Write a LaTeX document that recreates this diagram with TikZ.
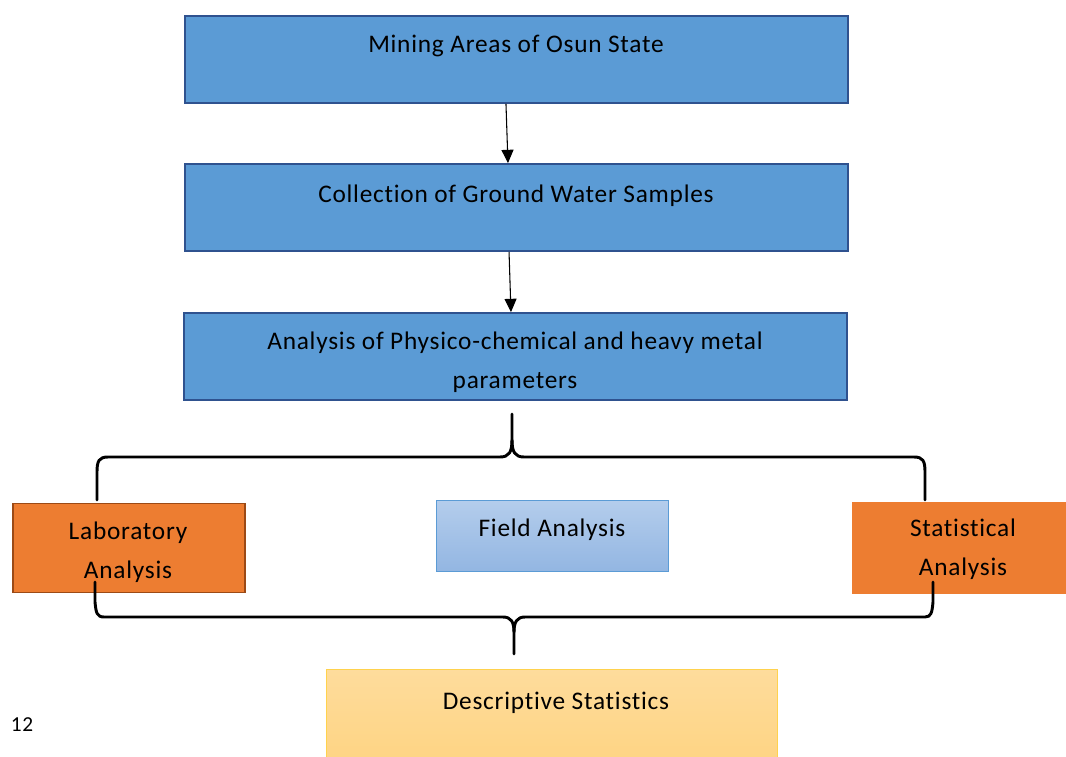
\documentclass[tikz,border=0pt]{standalone}
\usepackage{fontspec}
\setmainfont{Carlito}[Ligatures=NoCommon,LetterSpace=3]
\usetikzlibrary{arrows.meta}
\definecolor{boxblue}{HTML}{5B9BD5}
\definecolor{boxedge}{HTML}{2F528F}
\definecolor{boxorange}{HTML}{ED7D31}
\definecolor{labedge}{HTML}{9C4A16}
\definecolor{fieldtop}{HTML}{B4CDEC}
\definecolor{fieldbot}{HTML}{93B6E2}
\definecolor{desctop}{HTML}{FEDC9C}
\definecolor{descbot}{HTML}{FED483}
\definecolor{descedge}{HTML}{FFD24D}
\begin{document}
\begin{tikzpicture}[x=0.75pt,y=-0.75pt,
  stagebox/.style={draw=boxedge,line width=1.5pt,fill=boxblue,minimum width=497pt,minimum height=65pt},
  txt/.style={font=\fontsize{19}{29}\selectfont,align=center},
  flow/.style={-{Triangle[length=10pt,width=9pt]},line width=0.8pt},
  brace/.style={line width=2.2pt,line cap=round}]
\useasboundingbox (0,0) rectangle (1066,756);
\node[stagebox] (mining) at (516.5,59.5) {};
\node[stagebox] (collection) at (516.5,207.5) {};
\node[stagebox] (physchem) at (515.5,356.5) {};
\node[txt] (miningtxt) at (516,46) {Mining Areas of Osun State};
\node[txt] (collectiontxt) at (516,196) {Collection of Ground Water Samples};
\node[txt] (physchemtxt) at (515,362.5) {Analysis of Physico-chemical and heavy metal\\parameters};
\draw[flow] ([xshift=-7.9pt]mining.south) -- ([xshift=-6.4pt]collection.north);
\draw[flow] ([xshift=-5.6pt]collection.south) -- ([xshift=-3.4pt]physchem.north);
% the three analyses
\node[draw=labedge,line width=1.2pt,fill=boxorange,minimum width=174pt,minimum height=67pt] (lab) at (129,548) {};
\node[draw=boxblue,shade,top color=fieldtop,bottom color=fieldbot,minimum width=174pt,minimum height=53pt] (field) at (552,535.5) {};
\node[draw=white,fill=boxorange,minimum width=162pt,minimum height=70pt] (stat) at (959,547.5) {};
\node[txt] (labtxt) at (128,552) {Laboratory\\Analysis};
\node[txt] (fieldtxt) at (552,530) {Field Analysis};
\node[txt] (stattxt) at (963,549.5) {Statistical\\Analysis};
% braces
\draw[brace] (97,500) -- (97,472) .. controls (97,461) and (99,457) .. (108,457) -- (500,457)
  .. controls (509,457) and (512,452) .. (512,440) -- (512,414);
\draw[brace] (512,440) .. controls (512,452) and (515,457) .. (524,457) -- (914,457)
  .. controls (923,457) and (925,461) .. (925,472) -- (925,500);
\draw[brace] (95,582) -- (95,602) .. controls (96,613) and (97,617) .. (104,617) -- (503,617)
  .. controls (511,617) and (514,622) .. (514,632) -- (514,654);
\draw[brace] (514,632) .. controls (514,622) and (517,617) .. (525,617) -- (925,617)
  .. controls (931,617) and (932,613) .. (933,602) -- (933,582);
\node[draw=descedge,shade,top color=desctop,bottom color=descbot,minimum width=338pt,minimum height=70pt] (desc) at (551.5,716) {};
\node[txt] (desctxt) at (556,703) {Descriptive Statistics};
\node[font=\fontsize{16}{18}\selectfont] (pagenum) at (22,725) {12};
\end{tikzpicture}
\end{document}
